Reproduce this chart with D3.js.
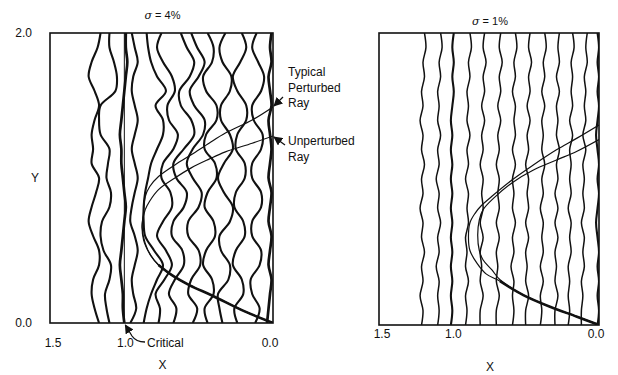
<!DOCTYPE html>
<html>
<head>
<meta charset="utf-8">
<script src="https://cdn.jsdelivr.net/npm/d3@7"></script>
<style>
  html, body { margin: 0; padding: 0; background: #fff; }
  svg { display: block; }
  text { font-family: "Liberation Sans", Arial, sans-serif; fill: #111; }
</style>
</head>
<body>
<svg id="chart" width="618" height="375"></svg>
<script>
// ---------------- data ----------------
const xTicks = [1.5, 1.0, 0.0];
const yTicks = [0.0, 2.0];
const panelTitles = ["4%", "1%"];

// depth levels at which each contour is sampled (top to bottom)
const yLevels = [2.0, 1.9, 1.8, 1.7, 1.6, 1.5, 1.4, 1.3, 1.2, 1.1, 1.0, 0.9, 0.8, 0.7, 0.6, 0.5, 0.4, 0.3, 0.2, 0.1, 0.0];

// sigma = 4% : X position of each perturbed contour at yLevels
const leftContours = [
  [1.16, 1.18, 1.22, 1.24, 1.20, 1.17, 1.20, 1.22, 1.21, 1.22, 1.17, 1.19, 1.22, 1.24, 1.21, 1.17, 1.17, 1.21, 1.22, 1.20, 1.17],
  [1.10, 1.10, 1.07, 1.05, 1.06, 1.16, 1.17, 1.16, 1.10, 1.11, 1.12, 1.09, 1.10, 1.15, 1.16, 1.14, 1.09, 1.10, 1.13, 1.12, 1.10],
  [0.99, 0.99, 0.98, 0.99, 1.00, 1.01, 1.02, 1.03, 1.02, 1.02, 1.01, 1.00, 0.99, 1.00, 1.01, 1.02, 1.03, 1.02, 1.01, 1.01, 1.00],
  [0.95, 0.93, 0.91, 0.94, 0.95, 0.93, 0.91, 0.93, 0.95, 0.93, 0.91, 0.93, 0.95, 0.96, 0.93, 0.91, 0.93, 0.95, 0.94, 0.92, 0.96],
  [0.85, 0.84, 0.82, 0.78, 0.72, 0.79, 0.74, 0.74, 0.78, 0.82, 0.84, 0.86, 0.87, 0.87, 0.86, 0.80, 0.74, 0.78, 0.82, 0.85, 0.87],
  [0.75, 0.78, 0.74, 0.68, 0.66, 0.71, 0.70, 0.64, 0.67, 0.74, 0.75, 0.69, 0.68, 0.74, 0.78, 0.72, 0.68, 0.73, 0.79, 0.76, 0.77],
  [0.62, 0.58, 0.53, 0.56, 0.63, 0.62, 0.55, 0.53, 0.60, 0.67, 0.65, 0.58, 0.60, 0.67, 0.68, 0.61, 0.60, 0.66, 0.70, 0.65, 0.67],
  [0.55, 0.51, 0.46, 0.50, 0.56, 0.53, 0.46, 0.47, 0.54, 0.58, 0.54, 0.48, 0.50, 0.57, 0.57, 0.50, 0.49, 0.55, 0.57, 0.51, 0.54],
  [0.44, 0.40, 0.41, 0.47, 0.45, 0.38, 0.38, 0.45, 0.46, 0.39, 0.38, 0.44, 0.46, 0.40, 0.39, 0.45, 0.47, 0.41, 0.40, 0.46, 0.44],
  [0.32, 0.36, 0.34, 0.28, 0.29, 0.35, 0.35, 0.29, 0.27, 0.33, 0.37, 0.33, 0.27, 0.29, 0.36, 0.35, 0.29, 0.30, 0.37, 0.36, 0.34],
  [0.21, 0.18, 0.22, 0.27, 0.24, 0.18, 0.18, 0.24, 0.25, 0.19, 0.19, 0.25, 0.26, 0.20, 0.19, 0.25, 0.27, 0.21, 0.20, 0.26, 0.24],
  [0.11, 0.14, 0.10, 0.06, 0.08, 0.14, 0.13, 0.07, 0.08, 0.14, 0.14, 0.08, 0.08, 0.14, 0.14, 0.08, 0.09, 0.15, 0.14, 0.09, 0.12],
  [0.01, 0.02, 0.01, 0.03, 0.02, 0.01, 0.03, 0.02, 0.01, 0.02, 0.03, 0.01, 0.02, 0.03, 0.01, 0.02, 0.03, 0.01, 0.02, 0.03, 0.04]
];

// sigma = 1% : X position of each perturbed contour at yLevels
const rightContours = [
  [1.19, 1.18, 1.20, 1.19, 1.21, 1.20, 1.22, 1.20, 1.21, 1.19, 1.21, 1.20, 1.22, 1.20, 1.21, 1.19, 1.21, 1.20, 1.22, 1.20, 1.21],
  [1.08, 1.07, 1.09, 1.08, 1.10, 1.09, 1.10, 1.08, 1.10, 1.09, 1.11, 1.09, 1.10, 1.08, 1.10, 1.09, 1.11, 1.09, 1.10, 1.09, 1.10],
  [0.99, 1.00, 0.99, 1.00, 0.99, 1.00, 1.01, 1.00, 1.01, 1.00, 1.01, 1.00, 1.01, 1.00, 1.01, 1.00, 1.01, 1.00, 1.01, 1.00, 1.01],
  [0.88, 0.87, 0.89, 0.88, 0.90, 0.89, 0.90, 0.88, 0.90, 0.89, 0.91, 0.89, 0.90, 0.89, 0.91, 0.90, 0.91, 0.89, 0.91, 0.90, 0.91],
  [0.78, 0.79, 0.77, 0.79, 0.78, 0.80, 0.78, 0.80, 0.79, 0.81, 0.79, 0.80, 0.79, 0.81, 0.79, 0.81, 0.80, 0.81, 0.79, 0.81, 0.81],
  [0.67, 0.68, 0.66, 0.68, 0.67, 0.69, 0.67, 0.69, 0.68, 0.70, 0.68, 0.69, 0.68, 0.70, 0.68, 0.70, 0.69, 0.70, 0.68, 0.70, 0.70],
  [0.57, 0.56, 0.58, 0.57, 0.59, 0.57, 0.58, 0.57, 0.59, 0.57, 0.59, 0.58, 0.59, 0.57, 0.59, 0.58, 0.60, 0.58, 0.59, 0.58, 0.59],
  [0.47, 0.48, 0.46, 0.48, 0.47, 0.49, 0.47, 0.49, 0.48, 0.50, 0.48, 0.49, 0.48, 0.50, 0.48, 0.50, 0.49, 0.50, 0.48, 0.50, 0.50],
  [0.37, 0.36, 0.38, 0.37, 0.39, 0.37, 0.39, 0.38, 0.39, 0.37, 0.39, 0.38, 0.40, 0.38, 0.39, 0.38, 0.40, 0.38, 0.40, 0.39, 0.40],
  [0.27, 0.28, 0.27, 0.29, 0.27, 0.29, 0.28, 0.29, 0.27, 0.29, 0.28, 0.30, 0.28, 0.30, 0.28, 0.30, 0.29, 0.30, 0.28, 0.30, 0.30],
  [0.18, 0.17, 0.19, 0.18, 0.19, 0.18, 0.20, 0.18, 0.20, 0.19, 0.20, 0.19, 0.21, 0.19, 0.20, 0.19, 0.21, 0.20, 0.21, 0.20, 0.21],
  [0.08, 0.09, 0.08, 0.10, 0.09, 0.10, 0.09, 0.11, 0.09, 0.11, 0.10, 0.11, 0.10, 0.12, 0.10, 0.11, 0.10, 0.12, 0.11, 0.12, 0.12],
  [0.01, 0.00, 0.01, 0.00, 0.01, 0.00, 0.01, 0.02, 0.01, 0.00, 0.01, 0.00, 0.01, 0.02, 0.01, 0.00, 0.01, 0.00, 0.01, 0.00, 0.01]
];

// rays as [X, Y]
const leftPerturbedRay = [[0,0],[0.19,0.08],[0.41,0.19],[0.56,0.26],[0.68,0.33],[0.77,0.40],[0.82,0.46],[0.86,0.55],[0.88,0.66],[0.87,0.77],[0.86,0.87],[0.83,0.94],[0.77,1.01],[0.66,1.09],[0.55,1.16],[0.43,1.24],[0.32,1.31],[0.14,1.40],[0.0,1.49]];
const leftUnperturbedRay = [[0,0],[0.19,0.08],[0.41,0.19],[0.56,0.26],[0.68,0.33],[0.77,0.40],[0.83,0.48],[0.87,0.57],[0.88,0.68],[0.86,0.78],[0.83,0.84],[0.77,0.92],[0.66,1.00],[0.55,1.07],[0.43,1.13],[0.32,1.18],[0.14,1.24],[0.0,1.29]];
const rightRayA = [[0,0],[0.15,0.057],[0.334,0.125],[0.516,0.205],[0.675,0.30],[0.77,0.35],[0.83,0.42],[0.88,0.51],[0.89,0.60],[0.88,0.70],[0.845,0.765],[0.80,0.82],[0.72,0.89],[0.584,1.0],[0.448,1.096],[0.29,1.20],[0.15,1.28],[0,1.37]];
const rightRayB = [[0,0],[0.15,0.057],[0.334,0.125],[0.516,0.205],[0.675,0.31],[0.73,0.377],[0.79,0.445],[0.816,0.51],[0.827,0.616],[0.816,0.72],[0.79,0.79],[0.72,0.867],[0.584,0.98],[0.45,1.06],[0.29,1.13],[0.15,1.19],[0,1.27]];
const criticalX = 1.0;

// ---------------- drawing ----------------
const svg = d3.select("#chart");
const INK = "#111";

const panels = [
  { x: d3.scaleLinear().domain([1.5, 0]).range([50, 273]),
    y: d3.scaleLinear().domain([0, 2]).range([323, 33]),
    contours: leftContours, rays: [leftPerturbedRay, leftUnperturbedRay],
    shared: leftUnperturbedRay.slice(0, 6), contourW: 2.1, title: panelTitles[0],
    titleY: 19, tickY: 347, xLabY: 369, critical: true, showY: true },
  { x: d3.scaleLinear().domain([1.5, 0]).range([379, 599]),
    y: d3.scaleLinear().domain([0, 2]).range([325, 33]),
    contours: rightContours, rays: [rightRayA, rightRayB],
    shared: rightRayA.slice(0, 5), contourW: 1.5, title: panelTitles[1],
    titleY: 25, tickY: 338, xLabY: 371, critical: false, showY: false }
];

panels.forEach((p, pi) => {
  const g = svg.append("g");
  const [x0, x1] = p.x.range();
  const [yb, yt] = p.y.range();
  const clipId = "clip" + pi;
  svg.append("clipPath").attr("id", clipId)
    .append("rect").attr("x", x0).attr("y", yt).attr("width", x1 - x0).attr("height", yb - yt);

  const plot = g.append("g").attr("clip-path", `url(#${clipId})`);

  const contourLine = d3.line()
    .x(d => p.x(d[0])).y(d => p.y(d[1]))
    .curve(d3.curveCatmullRom.alpha(0.5));

  p.contours.forEach((xs, i) => {
    const pts = xs.map((v, k) => [v, yLevels[k]]);
    plot.append("path")
      .attr("d", contourLine(pts))
      .attr("fill", "none").attr("stroke", INK)
      .attr("stroke-width", (i === 2 || i === 12) ? p.contourW + 0.6 : p.contourW)
      .attr("stroke-linejoin", "round");
  });

  if (p.critical) {
    plot.append("line")
      .attr("x1", p.x(criticalX)).attr("x2", p.x(criticalX))
      .attr("y1", p.y(2)).attr("y2", p.y(0))
      .attr("stroke", INK).attr("stroke-width", 1);
  }

  p.rays.forEach(r => {
    plot.append("path").attr("d", contourLine(r))
      .attr("fill", "none").attr("stroke", INK).attr("stroke-width", 1.2);
  });
  plot.append("path").attr("d", contourLine(p.shared))
    .attr("fill", "none").attr("stroke", INK).attr("stroke-width", 2.6);

  // frame
  g.append("rect").attr("x", x0).attr("y", yt).attr("width", x1 - x0).attr("height", yb - yt)
    .attr("fill", "none").attr("stroke", INK).attr("stroke-width", 1.6);

  // x tick labels
  g.selectAll("text.xt").data(xTicks).enter().append("text")
    .attr("class", "xt")
    .attr("x", d => p.x(d) + (d === 1.5 ? 3 : d === 0 ? -3 : 1))
    .attr("y", p.tickY).attr("text-anchor", "middle")
    .attr("font-size", 12).text(d => d.toFixed(1));

  g.append("text").attr("x", (x0 + x1) / 2 + 1).attr("y", p.xLabY)
    .attr("text-anchor", "middle").attr("font-size", 12).text("X");

  // title
  const t = g.append("text").attr("x", (x0 + x1) / 2 + 1).attr("y", p.titleY)
    .attr("text-anchor", "middle").attr("font-size", 11);
  t.append("tspan").attr("font-style", "italic").attr("font-family", "'DejaVu Serif', serif").text("σ");
  t.append("tspan").text(" = " + p.title);

  if (p.showY) {
    g.selectAll("text.yt").data(yTicks).enter().append("text")
      .attr("class", "yt").attr("x", 32).attr("y", d => p.y(d) + 4)
      .attr("text-anchor", "end").attr("font-size", 12).text(d => d.toFixed(1));
    g.append("text").attr("x", 35).attr("y", 182).attr("text-anchor", "middle")
      .attr("font-size", 12).text("Y");
  }
});

// ---------------- annotations ----------------
const defs = svg.append("defs");
defs.append("marker").attr("id", "ah").attr("viewBox", "0 0 10 10")
  .attr("refX", 9).attr("refY", 5).attr("markerWidth", 7).attr("markerHeight", 7)
  .attr("orient", "auto-start-reverse")
  .append("path").attr("d", "M0,0 L10,5 L0,10 z").attr("fill", INK);

const L = panels[0];
const ann = svg.append("g");
const labelX = 288;
[["Typical", 76], ["Perturbed", 92], ["Ray", 107], ["Unperturbed", 145], ["Ray", 161]].forEach(([s, y]) => {
  ann.append("text").attr("x", labelX).attr("y", y).attr("font-size", 12).text(s);
});
// arrows to ray ends at the right frame edge
const pEnd = leftPerturbedRay[leftPerturbedRay.length - 1];
const uEnd = leftUnperturbedRay[leftUnperturbedRay.length - 1];
ann.append("line").attr("x1", 283).attr("y1", 97)
  .attr("x2", L.x(pEnd[0]) + 1).attr("y2", L.y(pEnd[1]) - 1)
  .attr("stroke", INK).attr("stroke-width", 1.3).attr("marker-end", "url(#ah)");
ann.append("line").attr("x1", 285).attr("y1", 145)
  .attr("x2", L.x(uEnd[0]) + 1).attr("y2", L.y(uEnd[1]) + 1)
  .attr("stroke", INK).attr("stroke-width", 1.3).attr("marker-end", "url(#ah)");

// critical label
ann.append("text").attr("x", 147).attr("y", 347).attr("font-size", 12).text("Critical");
ann.append("path")
  .attr("d", `M145,342 Q136,342 132,336 L${L.x(criticalX) + 1},${L.y(0) + 2}`)
  .attr("fill", "none").attr("stroke", INK).attr("stroke-width", 1.3)
  .attr("marker-end", "url(#ah)");
</script>
</body>
</html>
